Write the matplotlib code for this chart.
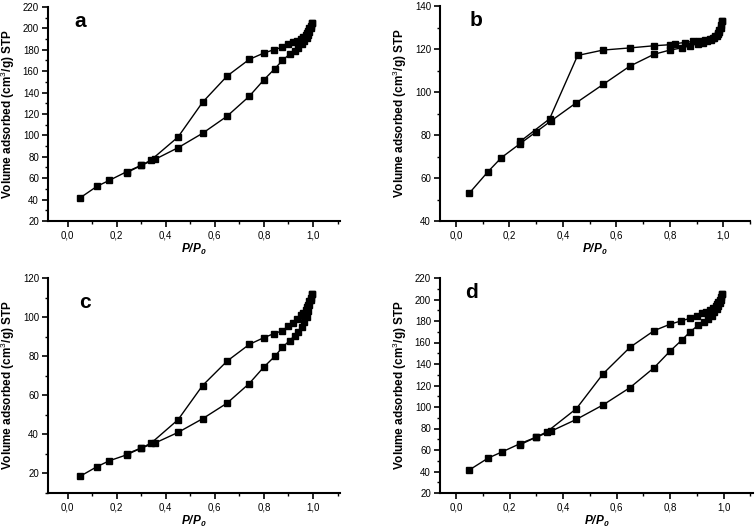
import matplotlib
matplotlib.use("Agg")
import matplotlib.pyplot as plt
from matplotlib.ticker import FuncFormatter, MultipleLocator

plt.rcParams["font.family"] = ["Liberation Sans", "DejaVu Sans"]
plt.rcParams["mathtext.fontset"] = "custom"
plt.rcParams["mathtext.rm"] = "Liberation Sans"
plt.rcParams["mathtext.bf"] = "Liberation Sans:bold"
plt.rcParams["mathtext.it"] = "Liberation Sans:italic"
plt.rcParams["mathtext.bfit"] = "Liberation Sans:bold:italic"

# adsorption branch (lower), shared relative pressures
ads_x = [0.05, 0.12, 0.17, 0.24, 0.30, 0.355, 0.45, 0.55, 0.65, 0.74, 0.80, 0.845,
         0.875, 0.905, 0.925, 0.94, 0.955, 0.965, 0.975, 0.98, 0.985, 0.99, 0.995]
# desorption branch (upper)
des_x = [0.995, 0.99, 0.985, 0.98, 0.975, 0.97, 0.96, 0.95, 0.935, 0.92, 0.90,
         0.875, 0.84, 0.80, 0.74, 0.65, 0.55, 0.45, 0.34, 0.30, 0.24]

ads_a = [41.5, 52.5, 58, 66, 72, 77.5, 88.5, 102, 118, 136.5, 152, 162.5,
         170, 176, 179, 182, 185, 188, 191, 194, 197, 200, 205]
des_a = [205, 202, 200, 198, 196, 194, 192, 190, 188, 187, 185,
         182.5, 180, 177, 171, 155.5, 131, 98.5, 77, 72, 65]

ads_b = [53, 63, 69.5, 76, 81.5, 86.5, 95, 103.5, 112, 117.5, 119.5, 120.5,
         121.5, 122.5, 123, 123.5, 124, 125, 126, 127.5, 129, 131, 133]
des_b_x = [0.995, 0.99, 0.985, 0.98, 0.97, 0.96, 0.95, 0.93, 0.91, 0.885, 0.855,
           0.82, 0.80, 0.74, 0.65, 0.55, 0.455, 0.35, 0.24]
des_b = [133, 130, 128, 127, 126, 125, 124.5, 124, 123.5, 123.5, 123,
         122.5, 122, 121.5, 120.5, 119.5, 117, 87.5, 77]

ads_c = [18.5, 23.5, 26.5, 29.5, 33, 35.5, 41, 48, 56, 66, 74.5, 80,
         84.5, 88, 90.5, 92.5, 95, 97.5, 100, 103, 106, 109, 112]
des_c = [112, 110, 108, 106, 105, 103.5, 102, 101, 99, 97, 95.5,
         93, 91.5, 89.5, 86, 77.5, 65, 47.5, 35.5, 33, 30]

panels = [
    ("a", ads_x, ads_a, des_x, des_a, (20, 220), 20, (-0.08, 1.11)),
    ("b", ads_x, ads_b, des_b_x, des_b, (40, 140), 20, (-0.06, 1.10)),
    ("c", ads_x, ads_c, des_x, des_c, (10, 120), 20, (-0.08, 1.11)),
    ("d", ads_x, ads_a, des_x, des_a, (20, 220), 20, (-0.06, 1.11)),
]

W, H = 756, 532
# axes boxes in pixels: left, top, right, bottom
boxes = [(48, 7, 340, 221), (440, 6, 750, 221), (48, 278, 340, 493), (440, 278, 753, 493)]
label_pos = [(0.09, 0.975), (0.095, 0.975), (0.105, 0.93), (0.08, 0.975)]

fig = plt.figure(figsize=(W / 100, H / 100), dpi=100)
comma = FuncFormatter(lambda v, p: f"{v:.1f}".replace(".", ","))

for (name, ax_x, ads, dx, des, ylim, ystep, xlim), box, lp in zip(panels, boxes, label_pos):
    l, t, r, b = box
    ax = fig.add_axes([l / W, 1 - b / H, (r - l) / W, (b - t) / H])
    for xs, ys in ((ax_x, ads), (dx, des)):
        ax.plot(xs, ys, color="black", linewidth=1.0, marker="s", markersize=4.2)
    ax.set_xlim(*xlim)
    ax.set_ylim(*ylim)
    ax.xaxis.set_major_locator(MultipleLocator(0.2))
    ax.xaxis.set_minor_locator(MultipleLocator(0.1))
    ax.yaxis.set_major_locator(MultipleLocator(ystep))
    ax.yaxis.set_minor_locator(MultipleLocator(ystep / 2))
    ax.xaxis.set_major_formatter(comma)
    for s in ("top", "right"):
        ax.spines[s].set_visible(False)
    for s in ("left", "bottom"):
        ax.spines[s].set_linewidth(1.5)
    ax.tick_params(which="major", direction="out", length=4, width=1.2,
                   labelsize=7, pad=2.5)
    ax.tick_params(which="minor", direction="out", length=2.5, width=1.0)
    ax.set_ylabel(r"Volume adsorbed (cm$^3$/g) STP", fontsize=8.5,
                  fontweight="bold", labelpad=4)
    ax.set_xlabel(r"$\mathbfit{P/P_0}$", fontsize=8.5, labelpad=1.5)
    ax.text(lp[0], lp[1], name, transform=ax.transAxes, fontsize=15,
            fontweight="bold", va="top", ha="left")

fig.savefig("out.png", dpi=100)
